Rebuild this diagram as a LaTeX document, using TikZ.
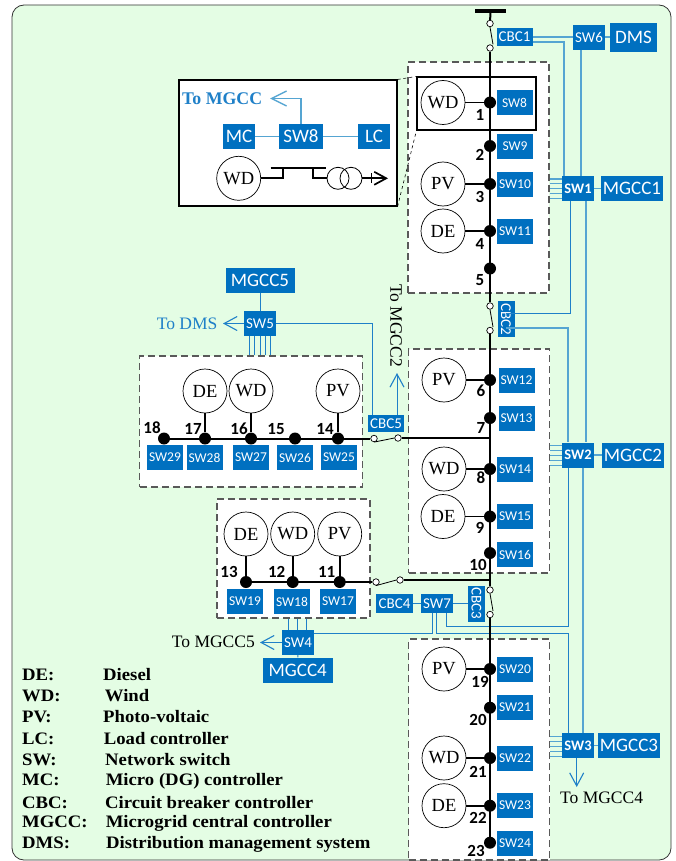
\documentclass[tikz,border=0pt]{standalone}
\usepackage{fontspec}
\setmainfont{Liberation Serif}
\newfontfamily\ctrlfont{Carlito}
\newfontfamily\legendfont[FakeStretch=1.07]{Liberation Serif}
\usetikzlibrary{arrows.meta}
\definecolor{ctrlblue}{HTML}{0070C0}
\definecolor{linkblue}{HTML}{1F80C8}
\definecolor{lightlink}{HTML}{55A5D2}
\definecolor{panelgreen}{HTML}{E4FDE4}
\tikzset{
  ctrlbox/.style={fill=ctrlblue, text=white, inner sep=0pt, font=\fontsize{13.5}{14}\selectfont\ctrlfont},
  swsmall/.style={ctrlbox, minimum width=36pt, minimum height=25pt},
  swmid/.style={ctrlbox, minimum width=32pt, minimum height=25pt, font=\fontsize{15}{16}\selectfont\ctrlfont},
  swbold/.style={swmid, font=\fontsize{14.5}{16}\selectfont\ctrlfont\bfseries},
  ctrlbig/.style={ctrlbox, minimum height=25pt, font=\fontsize{19}{20}\selectfont\ctrlfont},
  cbcbox/.style={ctrlbox, minimum width=36pt, minimum height=18pt, font=\fontsize{15}{16}\selectfont\ctrlfont},
  zone/.style={draw=black!65, fill=white, line width=1.1pt, dash pattern=on 7pt off 4pt, inner sep=0pt},
  dot/.style={circle, fill=black, minimum size=12pt, inner sep=0pt},
  swcircle/.style={circle, draw=black, fill=white, line width=0.7pt, minimum size=6.5pt, inner sep=0pt},
  gen/.style={circle, draw=black, fill=white, line width=0.7pt, minimum size=44pt, inner sep=0pt, font=\fontsize{18.5}{20}\selectfont},
  numlab/.style={font=\fontsize{17}{18}\selectfont\ctrlfont\bfseries, inner sep=0pt},
  bus/.style={line width=2pt, black},
  stem/.style={line width=1.7pt, black},
  link/.style={line width=0.9pt, linkblue},
  thicklink/.style={line width=1.4pt, lightlink},
  totext/.style={font=\fontsize{17.5}{18}\selectfont, inner sep=0pt},
  legend/.style={anchor=base west, inner sep=0pt, font=\fontsize{17.5}{18}\selectfont\legendfont\bfseries},
  >={Straight Barb[length=13pt, width=14pt, line width=1.1pt]}
}
\begin{document}
\begin{tikzpicture}[x=1pt, y=-1pt]
    \useasboundingbox (0,0) rectangle (676,861);
    % Panel and dashed microgrid zones
    \draw[fill=panelgreen, draw=black!80, line width=0.8pt, rounded corners=12pt] (12,5) rectangle (671,860);
    \node[zone, minimum width=141pt, minimum height=231pt] (zone1) at (478.5,177.5) {};
    \node[zone, minimum width=141pt, minimum height=224pt] (zone2) at (479,461) {};
    \node[zone, minimum width=141pt, minimum height=221pt] (zone3) at (479,749.5) {};
    \node[zone, minimum width=222.5pt, minimum height=131pt] (zone5) at (251,421.5) {};
    \node[zone, minimum width=153pt, minimum height=119pt] (zone4) at (293.5,558.5) {};

    % Bus nodes with their numbers
    \foreach \n/\x/\y/\lx/\ly in {1/490/102.5/480/115, 2/490/146/480/155, 3/490/184/480/197, 4/490/231/480/244,
        5/490/268.5/480/280, 6/490/380/481/391, 7/490/418/481/428, 8/490/469/481/478, 9/490/516.5/480/528,
        10/490/553/478/565, 11/339.7/582/326.7/572, 12/292.7/582/276.7/572, 13/246/582/229/572,
        14/338/438.5/325/429, 15/295/438.5/276/429, 16/251/438.5/239/429, 17/205/438.5/193/429, 18/164/438.5/152/428,
        19/490/669/480/682, 20/490/707.7/478/720, 21/490/758/478/772, 22/490/805.7/478/818, 23/490/842.7/476/851}{
        \node[dot] (n\n) at (\x,\y) {};
        \node[numlab] (lab\n) at (\lx,\ly) {\n};
    }

    % Generators
    \foreach \id/\txt/\x/\y/\n in {wd1/WD/443/102.5/1, pv3/PV/443/184/3, de4/DE/443/231/4, pv6/PV/444/380/6,
        wd8/WD/444/469/8, de9/DE/443/516.5/9, pv11/PV/339.7/534/11, wd12/WD/292.7/534/12, de13/DE/246/534/13,
        pv14/PV/338/391/14, wd16/WD/251/391/16, de17/DE/205/391/17, pv19/PV/444/669/19, wd21/WD/444/758/21, de22/DE/444/805.7/22}{
        \node[gen] (\id) at (\x,\y) {\txt};
        \draw[stem] (\id) -- (n\n);
    }

    % Switches beside the nodes
    \foreach \n/\x/\y in {8/514.5/102.5, 9/515/146.5, 10/515/184.5, 11/515/231.5, 12/516.5/380.5, 13/516.5/418.5, 14/515/469.5,
        15/515/516.5, 16/515/554.5, 17/338/601.5, 18/292/601.5, 19/245/601.5, 20/515/669.5, 21/515/707.5, 22/515/758.5,
        23/515/805.5, 24/515/843.5, 25/339/457.5, 26/295/457.5, 27/251/457.5, 28/204.5/457.5, 29/165/457.5}{
        \node[swsmall] (sw\n) at (\x,\y) {SW\n};
    }

    % Other controllers
    \node[swmid] (sw6) at (589,37.5) {SW6};
    \node[swbold] (sw1) at (578,188.5) {SW1};
    \node[swbold] (sw2) at (578,455) {SW2};
    \node[swbold] (sw3) at (578,745.5) {SW3};
    \node[swmid] (sw5) at (260,323.5) {SW5};
    \node[swmid] (sw4) at (298,642.5) {SW4};
    \node[swmid, minimum height=19pt] (sw7) at (437,603.5) {SW7};
    \node[ctrlbig, minimum width=47pt, minimum height=29pt] (dms) at (633.5,37.5) {DMS};
    \node[ctrlbig, minimum width=62pt] (mgcc1) at (632,188.5) {MGCC1};
    \node[ctrlbig, minimum width=62pt] (mgcc2) at (633,455) {MGCC2};
    \node[ctrlbig, minimum width=62pt] (mgcc3) at (629,745.5) {MGCC3};
    \node[ctrlbig, minimum width=69pt] (mgcc5) at (260,280.5) {MGCC5};
    \node[ctrlbig, minimum width=70pt] (mgcc4) at (297.7,670) {MGCC4};
    \node[cbcbox] (cbc1) at (514.5,37) {CBC1};
    \node[cbcbox, minimum width=37pt, minimum height=19pt] (cbc4) at (394.5,603.5) {CBC4};
    \node[cbcbox, minimum height=17pt] (cbc5) at (386,423.5) {CBC5};
    \node[cbcbox, minimum height=17pt, rotate=-90] (cbc2) at (506,319) {CBC2};
    \node[cbcbox, minimum height=17pt, rotate=-90] (cbc3) at (476.5,603.5) {CBC3};

    % Breakers
    \node[swcircle] (brk1a) at (490,23.5) {};
    \node[swcircle] (brk1b) at (490,48) {};
    \node[swcircle] (brk2a) at (490,306) {};
    \node[swcircle] (brk2b) at (490,330.5) {};
    \node[swcircle] (brk3a) at (490,590) {};
    \node[swcircle] (brk3b) at (490,614.5) {};
    \node[swcircle] (brk4a) at (376,582) {};
    \node[swcircle] (brk4b) at (400,580) {};
    \node[swcircle] (brk5a) at (374,438.5) {};
    \node[swcircle] (brk5b) at (398,438) {};

    % Communication links
    \draw[thicklink] (cbc1.east |- 0,37) -- (sw6.west |- 0,37);
    \draw[thicklink] (sw6.east |- 0,37) -- (dms.west |- 0,37);
    \draw[thicklink] (cbc1.east |- 0,42) -| (564,0 |- sw1.north);
    \draw[thicklink] (581,0 |- sw6.south) -- (581,0 |- sw1.north);
    \draw[thicklink] (sw1) -- (mgcc1);
    \draw[thicklink] (586,0 |- sw1.south) -- (586,0 |- sw2.north);
    \draw[link] (570.5,0 |- sw1.south) |- (cbc2.east |- 0,313);
    \draw[thicklink, line width=1.1pt] (cbc2.east |- 0,328) -| (568,0 |- sw2.north);
    \draw[thicklink] (sw2) -- (mgcc2);
    \draw[thicklink] (583,0 |- sw2.south) -- (583,0 |- sw3.north);
    \draw[thicklink] (sw3) -- (mgcc3);
    \draw[link] (568,0 |- sw2.south) |- (446.7,626) -- (446.7,0 |- sw7.south);
    \draw[link] (568,0 |- sw3.north) |- (436.7,633) -- (436.7,0 |- sw7.south);
    \draw[link] (432,0 |- sw7.south) |- (sw4.east |- 0,633);
    \draw[link] (cbc4) -- (sw7);
    \draw[link] (sw7) -- (cbc3);
    \draw[link] (sw5) -- (mgcc5);
    \draw[link] (sw4) -- (mgcc4);
    \draw[link] (sw5.east) -| (372,0 |- cbc5.north);
    \foreach \y in {179,183.5,188,193,198}
        \draw[thicklink, line width=1pt] (sw1.west |- 0,\y) -- (zone1.east |- 0,\y);
    \foreach \y in {445,450,455,460,465}
        \draw[thicklink, line width=1pt] (sw2.west |- 0,\y) -- (zone2.east |- 0,\y);
    \foreach \y in {736,741,746,751,756}
        \draw[thicklink, line width=1pt] (sw3.west |- 0,\y) -- (zone3.east |- 0,\y);
    \foreach \x in {249,254,260,265,270}
        \draw[link] (\x,0 |- sw5.south) -- (\x,0 |- zone5.north);
    \foreach \x in {288,297,306.7}
        \draw[link] (\x,0 |- sw4.north) -- (\x,0 |- zone4.south);

    % Arrows leaving the picture
    \coordinate (toDMS) at (223,323.5);
    \coordinate (toMG2) at (397,373);
    \coordinate (toMG5) at (260,642.5);
    \coordinate (toMG4) at (576.7,787);
    \draw[link, ->] (sw5) -- (toDMS);
    \draw[link, ->] (397,0 |- cbc5.north) -- (toMG2);
    \draw[link, ->] (sw4) -- (toMG5);
    \draw[link, ->] (576.7,0 |- sw3.south) -- (toMG4);
    \node[totext, text=linkblue, anchor=east] (txtDMS) at (217.5,323.5) {To DMS};
    \node[totext, rotate=-90] (txtMG2) at (396,325.5) {To MGCC2};
    \node[totext, anchor=east] (txtMG5) at (255,642) {To MGCC5};
    \node[totext, anchor=west] (txtMG4) at (560,798) {To MGCC4};

    % Feeders and breaker blades
    \node[fill=black, inner sep=0pt, minimum width=31pt, minimum height=3.5pt] (topbar) at (490.5,11) {};
    \draw[bus] (topbar) -- (brk1a);
    \draw[bus] (brk1b) -- (brk2a);
    \draw[bus] (brk2b) -- (brk3a);
    \draw[bus] (brk3b) -- (n23);
    \draw[bus] (n18) -- (brk5a);
    \draw[bus] (brk5b) -- (brk5b -| n7);
    \draw[bus] (n13) -- (brk4a);
    \draw[bus] (brk4b) -- (brk4b -| n10);
    \draw[line width=0.8pt] (brk1a.south) -- ([xshift=3pt]brk1b.north);
    \draw[line width=0.8pt] (brk2a.south) -- ([xshift=3pt]brk2b.north);
    \draw[line width=0.8pt] (brk3a.south) -- ([xshift=3pt]brk3b.north);
    \draw[line width=0.8pt] (brk4a.south) -- (brk4b.west);
    \draw[line width=0.8pt] (brk5a.south) -- (brk5b.west);

    % Detail of node 1
    \node[draw=black, line width=1.1pt, minimum width=119pt, minimum height=53pt, inner sep=0pt] (hilite) at (476.5,103.5) {};
    \node[draw=black, fill=white, line width=1.1pt, minimum width=218pt, minimum height=126pt, inner sep=0pt] (detail) at (288,143) {};
    \draw[dashed, line width=0.6pt] (detail.north east) -- (hilite.north west);
    \draw[dashed, line width=0.6pt] (detail.south east) -- (hilite.south west);
    \node[ctrlbig, minimum width=32pt] (mc) at (239,136.5) {MC};
    \node[ctrlbig, minimum width=44pt] (swdetail) at (301,136.5) {SW8};
    \node[ctrlbig, minimum width=32pt] (lc) at (374,136.5) {LC};
    \draw[thicklink] (mc) -- (swdetail);
    \draw[thicklink] (swdetail) -- (lc);
    \coordinate (toMGCC) at (270,98.5);
    \draw[thicklink, -{Straight Barb[length=15pt, width=15pt, line width=1.4pt]}] (swdetail.north) |- (toMGCC);
    \node[totext, text=linkblue, anchor=west, font=\fontsize{17.8}{18}\selectfont\bfseries] (txtMGCC) at (182,98.5) {To MGCC};
    \node[gen] (wddetail) at (238.7,178.3) {WD};
    \node[circle, draw=black, line width=0.8pt, minimum size=22pt, inner sep=0pt] (trafoa) at (338,178.3) {};
    \node[circle, draw=black, line width=0.8pt, minimum size=22pt, inner sep=0pt] (trafob) at (351,178.3) {};
    \coordinate (gridout) at (388,178.3);
    \draw[stem] (wddetail.east) -| (283.3,168.3);
    \draw[stem] (270.7,168.3) -- (326,168.3);
    \draw[stem] (312.7,168.3) |- (trafoa.west);
    \draw[stem, -{Straight Barb[length=12pt, width=13pt, line width=1.7pt]}] (trafob.east) -- (gridout);
    \draw[stem] (371.5,173.5) -- (371.5,183);

    % Legend
    \foreach \k/\txt/\lx/\y in {DE/Diesel/103/680, WD/Wind/104.7/701, PV/Photo-voltaic/103/722, LC/Load controller/103.6/744,
        SW/Network switch/105/765, MC/Micro (DG) controller/105.6/785, CBC/Circuit breaker controller/105/808,
        MGCC/Microgrid central controller/105.6/827, DMS/Distribution management system/106/848}{
        \node[legend] (key\k) at (22,\y) {\k:};
        \node[legend] (text\k) at (\lx,\y) {\txt};
    }
\end{tikzpicture}
\end{document}
